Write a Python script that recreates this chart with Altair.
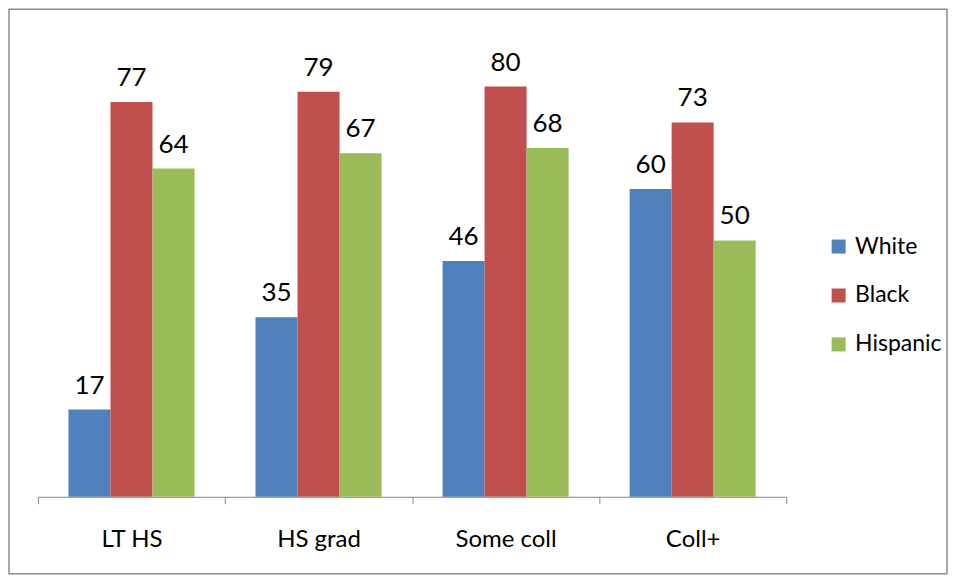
import altair as alt
import pandas as pd

categories = ["LT HS", "HS grad", "Some coll", "Coll+"]
series = ["White", "Black", "Hispanic"]
white = [17, 35, 46, 60]
black = [77, 79, 80, 73]
hispanic = [64, 67, 68, 50]
colors = ["#4F81BD", "#C0504D", "#9BBB59"]

rows = []
for i, c in enumerate(categories):
    for s, vals in zip(series, [white, black, hispanic]):
        rows.append({"cat": c, "group": s, "value": vals[i]})
df = pd.DataFrame(rows)

FONT = "Lato"

base = alt.Chart(df).encode(
    x=alt.X("cat:N", sort=categories, title=None,
            scale=alt.Scale(paddingInner=0, paddingOuter=0),
            axis=alt.Axis(tickBand="extent", labelAngle=0, labelFont=FONT,
                          labelFontSize=24, labelColor="#000000",
                          labelBaseline="alphabetic", labelPadding=43,
                          tickSize=7, tickColor="#868686", domainColor="#868686",
                          domainWidth=1, tickWidth=1, grid=False)),
    xOffset=alt.XOffset("group:N", sort=series,
                        scale=alt.Scale(paddingInner=0, paddingOuter=0.726)),
    y=alt.Y("value:Q", scale=alt.Scale(domain=[0, 90]), axis=None),
)

bars = base.mark_bar().encode(
    color=alt.Color("group:N", sort=series,
                    scale=alt.Scale(domain=series, range=colors),
                    legend=alt.Legend(title=None, orient="none", legendX=790, legendY=200,
                                      symbolType="square", symbolSize=196,
                                      symbolStrokeWidth=0, labelFont=FONT,
                                      labelFontSize=23, labelColor="#000000",
                                      labelOffset=5, rowPadding=25)),
)

labels = base.mark_text(baseline="alphabetic", dy=-16, font=FONT, fontSize=26,
                        color="#000000").encode(text="value:Q")

border = alt.Chart(alt.Data(values=[{}])).mark_rect(
    fill=None, stroke="#8c8c8c", strokeWidth=1.5
).encode(x=alt.value(-29), x2=alt.value(910), y=alt.value(-26), y2=alt.value(539))

chart = alt.layer(border, bars, labels).properties(
    width=749, height=462, padding=0
).configure_view(stroke=None)

chart.save("out.html", embed_options={"renderer": "svg", "actions": False})
